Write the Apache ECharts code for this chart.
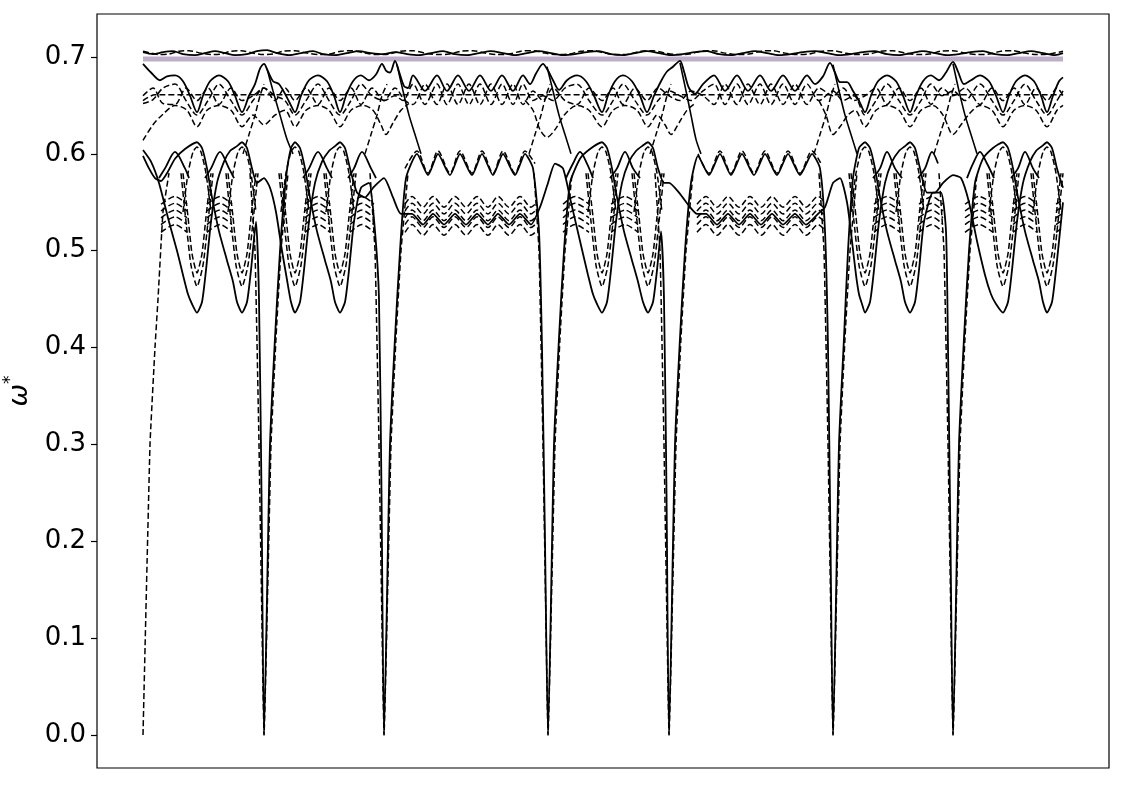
<!DOCTYPE html>
<html>
<head>
<meta charset="utf-8">
<script src="https://cdn.jsdelivr.net/npm/echarts@6/dist/echarts.min.js"></script>
<style>html,body{margin:0;padding:0;background:#fff;}#c{width:1125px;height:785px;}</style>
</head>
<body>
<div id="c"></div>
<script>
// path coordinate k (abstract k-path), frequency omega*
const yTicks = [0.0, 0.1, 0.2, 0.3, 0.4, 0.5, 0.6, 0.7];
const yLabels = ['0.0','0.1','0.2','0.3','0.4','0.5','0.6','0.7'];

const purpleBand = [[0,0.698],[920,0.698]];

const topSolid = [[0,0.705],[10,0.703],[20,0.705],[30,0.706],[40,0.703],[52,0.702],[62,0.704],[72,0.706],[82,0.704],[92,0.702],[104,0.703],[114,0.706],[124,0.707],[134,0.704],[146,0.702],[158,0.704],[170,0.706],[180,0.703],[192,0.702],[204,0.704],[216,0.706],[228,0.704],[240,0.703],[252,0.705],[264,0.703],[276,0.702],[288,0.704],[300,0.706],[312,0.703],[324,0.702],[336,0.704],[348,0.706],[360,0.704],[372,0.702],[384,0.704],[396,0.706],[408,0.704],[420,0.702],[432,0.703],[444,0.705],[456,0.706],[468,0.703],[480,0.702],[492,0.704],[504,0.706],[516,0.704],[528,0.702],[540,0.703],[552,0.705],[564,0.706],[576,0.703],[588,0.702],[600,0.704],[612,0.706],[624,0.704],[636,0.702],[648,0.703],[660,0.705],[672,0.706],[684,0.704],[696,0.702],[708,0.703],[720,0.705],[732,0.706],[744,0.703],[756,0.702],[768,0.704],[780,0.706],[792,0.704],[804,0.702],[816,0.703],[828,0.705],[840,0.706],[852,0.703],[864,0.702],[876,0.704],[888,0.706],[900,0.704],[912,0.702],[920,0.704]];

const topDashed = [[0,0.706],[6,0.7045],[16,0.7025],[26,0.703],[36,0.706],[46,0.7065],[58,0.704],[68,0.7025],[78,0.703],[88,0.706],[98,0.7065],[110,0.704],[120,0.7025],[130,0.703],[140,0.706],[152,0.7065],[164,0.704],[176,0.7025],[186,0.703],[198,0.706],[210,0.7065],[222,0.704],[234,0.7025],[246,0.703],[258,0.706],[270,0.7065],[282,0.704],[294,0.7025],[306,0.703],[318,0.706],[330,0.7065],[342,0.704],[354,0.7025],[366,0.703],[378,0.706],[390,0.7065],[402,0.704],[414,0.7025],[426,0.703],[438,0.706],[450,0.7065],[462,0.704],[474,0.7025],[486,0.703],[498,0.706],[510,0.7065],[522,0.704],[534,0.7025],[546,0.703],[558,0.706],[570,0.7065],[582,0.704],[594,0.7025],[606,0.703],[618,0.706],[630,0.7065],[642,0.704],[654,0.7025],[666,0.703],[678,0.706],[690,0.7065],[702,0.704],[714,0.7025],[726,0.703],[738,0.706],[750,0.7065],[762,0.704],[774,0.7025],[786,0.703],[798,0.706],[810,0.7065],[822,0.704],[834,0.7025],[846,0.703],[858,0.706],[870,0.7065],[882,0.704],[894,0.7025],[906,0.703],[920,0.706]];

const upperSolid = [[0,0.693],[8,0.684],[17,0.676],[24,0.68],[32,0.681],[40,0.675],[47,0.66],[54,0.643],[60,0.66],[67,0.675],[76,0.681],[85,0.675],[92,0.66],[99,0.643],[106,0.66],[112,0.672],[117,0.688],[121,0.693],[125,0.685],[130,0.675],[136,0.672],[142,0.662],[147,0.652],[152,0.643],[158,0.66],[166,0.676],[175,0.681],[184,0.675],[191,0.66],[197,0.643],[203,0.66],[210,0.675],[218,0.681],[226,0.676],[233,0.682],[239,0.693],[243,0.686],[247,0.684],[252,0.696],[256,0.685],[261,0.67],[265,0.668],[270,0.681],[282,0.665],[294,0.681],[304,0.665],[315,0.681],[326,0.665],[337,0.681],[348,0.665],[359,0.681],[370,0.665],[380,0.681],[387,0.672],[393,0.683],[400,0.693],[405,0.686],[410,0.676],[416,0.666],[424,0.676],[434,0.681],[443,0.675],[451,0.66],[459,0.643],[465,0.66],[472,0.675],[480,0.681],[489,0.675],[497,0.66],[504,0.643],[511,0.66],[518,0.675],[524,0.685],[530,0.69],[537,0.696],[541,0.685],[546,0.668],[552,0.662],[560,0.672],[571,0.681],[582,0.665],[594,0.681],[605,0.665],[617,0.681],[628,0.665],[640,0.681],[652,0.665],[664,0.681],[672,0.672],[680,0.68],[687,0.694],[692,0.684],[697,0.674],[704,0.674],[710,0.665],[716,0.655],[722,0.643],[728,0.66],[735,0.675],[744,0.681],[753,0.675],[760,0.66],[767,0.643],[773,0.66],[780,0.675],[788,0.681],[796,0.676],[803,0.684],[810,0.695],[815,0.685],[821,0.672],[828,0.676],[837,0.681],[846,0.675],[853,0.66],[860,0.643],[866,0.66],[873,0.675],[882,0.681],[891,0.675],[898,0.66],[904,0.643],[910,0.66],[916,0.675],[920,0.679]];

const upperFlatDashed = [[0,0.655],[12,0.661],[920,0.661]];

const upperWaveA = [[0,0.66],[10,0.668],[20,0.652],[32,0.651],[43,0.668],[54,0.655],[65,0.668],[76,0.651],[88,0.668],[99,0.655],[110,0.66],[121,0.668],[132,0.655],[142,0.668],[152,0.655],[163,0.668],[175,0.651],[186,0.668],[197,0.655],[208,0.668],[218,0.651],[229,0.668],[241,0.655],[252,0.668],[262,0.655],[270,0.651],[282,0.672],[294,0.651],[304,0.672],[315,0.651],[326,0.672],[337,0.651],[348,0.672],[359,0.651],[370,0.672],[380,0.651],[390,0.665],[400,0.655],[410,0.668],[422,0.655],[434,0.651],[446,0.668],[459,0.655],[470,0.668],[480,0.651],[492,0.668],[504,0.655],[515,0.668],[526,0.66],[537,0.655],[548,0.665],[560,0.66],[571,0.651],[582,0.672],[594,0.651],[605,0.672],[617,0.651],[628,0.672],[640,0.651],[652,0.672],[664,0.651],[676,0.668],[690,0.66],[700,0.668],[711,0.655],[722,0.66],[733,0.668],[744,0.651],[756,0.668],[767,0.655],[778,0.668],[788,0.651],[799,0.668],[810,0.66],[822,0.668],[837,0.651],[849,0.668],[860,0.655],[871,0.668],[882,0.651],[893,0.668],[904,0.655],[914,0.668],[920,0.66]];

const upperWaveB = [[0,0.652],[10,0.656],[20,0.668],[32,0.672],[43,0.655],[54,0.64],[65,0.655],[76,0.672],[88,0.655],[99,0.64],[110,0.655],[121,0.668],[132,0.66],[142,0.655],[152,0.64],[163,0.655],[175,0.672],[186,0.655],[197,0.64],[208,0.655],[218,0.672],[229,0.66],[241,0.655],[252,0.66],[260,0.655],[270,0.672],[282,0.651],[294,0.672],[304,0.651],[315,0.672],[326,0.651],[337,0.672],[348,0.651],[359,0.672],[370,0.651],[380,0.672],[390,0.655],[400,0.66],[410,0.655],[422,0.668],[434,0.672],[446,0.655],[459,0.64],[470,0.655],[480,0.672],[492,0.655],[504,0.64],[515,0.655],[526,0.665],[537,0.66],[548,0.655],[560,0.665],[571,0.672],[582,0.651],[594,0.672],[605,0.651],[617,0.672],[628,0.651],[640,0.672],[652,0.651],[664,0.672],[676,0.655],[690,0.665],[700,0.655],[711,0.66],[722,0.64],[733,0.655],[744,0.672],[756,0.655],[767,0.64],[778,0.655],[788,0.672],[799,0.66],[810,0.665],[822,0.655],[837,0.672],[849,0.655],[860,0.64],[871,0.655],[882,0.672],[893,0.655],[904,0.64],[914,0.655],[920,0.665]];

const upperDomes = [[0,0.614],[10,0.63],[20,0.641],[32,0.65],[44,0.645],[54,0.628],[64,0.645],[76,0.65],[88,0.645],[99,0.628],[110,0.64],[121,0.63],[132,0.64],[142,0.645],[152,0.628],[163,0.645],[175,0.65],[186,0.645],[197,0.628],[208,0.645],[220,0.65],[230,0.645],[238,0.63],[243,0.62],[250,0.632],[258,0.645],[266,0.652],[266,null],
 [382,0.655],[390,0.645],[397,0.625],[404,0.617],[412,0.625],[422,0.641],[434,0.65],[446,0.645],[459,0.628],[470,0.645],[482,0.65],[494,0.645],[505,0.628],[514,0.64],[522,0.63],[528,0.62],[536,0.632],[544,0.645],[552,0.652],[552,null],
 [676,0.655],[683,0.64],[690,0.62],[697,0.628],[705,0.64],[712,0.645],[722,0.628],[733,0.645],[744,0.65],[756,0.645],[767,0.628],[778,0.645],[790,0.65],[800,0.64],[810,0.62],[818,0.63],[826,0.641],[837,0.65],[849,0.645],[860,0.628],[871,0.645],[882,0.65],[893,0.645],[904,0.628],[914,0.645],[920,0.65]];

const crossSolid = [[124,0.688],[130,0.665],[137,0.64],[144,0.615],[150,0.6],[150,null],
 [254,0.692],[260,0.665],[266,0.64],[272,0.62],[278,0.6],[278,null],
 [404,0.69],[410,0.665],[416,0.64],[422,0.62],[428,0.6],[428,null],
 [537,0.694],[543,0.665],[548,0.64],[553,0.615],[558,0.6],[558,null],
 [690,0.692],[696,0.665],[702,0.64],[708,0.62],[714,0.6],[714,null],
 [810,0.693],[816,0.665],[822,0.64],[828,0.62],[834,0.6]];

const crossDashed = [[100,0.6],[106,0.62],[112,0.64],[117,0.66],[121,0.672],[121,null],
 [222,0.6],[228,0.62],[234,0.64],[239,0.66],[244,0.672],[244,null],
 [386,0.6],[392,0.62],[398,0.64],[403,0.66],[407,0.672],[407,null],
 [507,0.6],[513,0.62],[519,0.64],[524,0.66],[528,0.672],[528,null],
 [671,0.6],[677,0.62],[683,0.64],[688,0.66],[692,0.672],[692,null],
 [791,0.6],[797,0.62],[803,0.64],[808,0.66],[812,0.672]];

const lensP = [[0,0.598],[6,0.585],[12,0.575],[18,0.572],[24,0.58],[32,0.595],[42,0.605],[54,0.612],[59,0.606],[64,0.585],[69,0.555],[76,0.52],[84,0.49],[90,0.468],[94,0.447],[99,0.436],[104,0.447],[108,0.48],[113,0.53],[116,0.45],[118.5,0.25],[121,0],[127,0.3],[132,0.41],[137,0.5],[143,0.575],[148,0.606],[152,0.612],[157,0.606],[162,0.585],[167,0.555],[174,0.52],[182,0.49],[188,0.468],[192,0.447],[197,0.436],[202,0.447],[206,0.48],[211,0.53],[218,0.565],[226,0.57],[232,0.52],[236,0.45],[238.5,0.25],[241,0],[247,0.3],[252,0.41],[257,0.5],[263,0.575],[274,0.6],[285,0.578],[295,0.6],[307,0.578],[317,0.6],[329,0.578],[339,0.6],[350,0.578],[360,0.6],[372,0.578],[382,0.6],[390,0.585],[396,0.52],[399,0.4],[402,0.2],[405,0],[411,0.3],[416,0.41],[421,0.5],[427,0.57],[437,0.595],[447,0.605],[459,0.612],[464,0.606],[469,0.585],[474,0.555],[481,0.52],[489,0.49],[495,0.468],[500,0.447],[505,0.436],[510,0.447],[514,0.48],[518,0.52],[521,0.45],[523.5,0.25],[526,0],[532,0.3],[537,0.41],[542,0.5],[548,0.57],[555,0.598],[566,0.578],[577,0.6],[588,0.578],[599,0.6],[611,0.578],[622,0.6],[634,0.578],[645,0.6],[657,0.578],[669,0.6],[677,0.585],[682,0.52],[685,0.4],[687.5,0.2],[690,0],[696,0.3],[701,0.41],[705,0.5],[710,0.575],[716,0.606],[722,0.612],[727,0.606],[732,0.585],[737,0.555],[744,0.52],[752,0.49],[758,0.468],[762,0.447],[767,0.436],[772,0.447],[776,0.48],[781,0.53],[790,0.56],[798,0.56],[803,0.52],[805,0.4],[807.5,0.2],[810,0],[816,0.3],[821,0.41],[826,0.5],[832,0.57],[840,0.595],[850,0.606],[860,0.612],[865,0.606],[870,0.585],[875,0.555],[882,0.52],[890,0.49],[896,0.468],[900,0.447],[904,0.436],[909,0.447],[913,0.48],[918,0.53],[920,0.55]];

const lensQ = [[0,0.604],[8,0.592],[16,0.57],[26,0.53],[34,0.5],[40,0.475],[45,0.455],[49,0.445],[54,0.436],[59,0.447],[63,0.48],[68,0.53],[74,0.57],[81,0.592],[87,0.603],[94,0.608],[99,0.612],[104,0.606],[109,0.585],[114,0.57],[121,0.575],[127,0.565],[133,0.54],[139,0.5],[144,0.47],[148,0.447],[152,0.436],[157,0.447],[161,0.48],[166,0.53],[172,0.57],[179,0.592],[186,0.603],[192,0.608],[197,0.612],[202,0.606],[207,0.585],[214,0.56],[222,0.555],[230,0.565],[241,0.575],[250,0.555],[258,0.538],[269,0.538],[280,0.527],[290,0.538],[301,0.527],[312,0.538],[323,0.527],[334,0.538],[345,0.527],[355,0.538],[366,0.527],[377,0.538],[388,0.527],[397,0.545],[405,0.57],[412,0.59],[420,0.585],[428,0.55],[437,0.51],[445,0.475],[450,0.455],[454,0.445],[459,0.436],[464,0.447],[468,0.48],[473,0.53],[479,0.57],[486,0.592],[493,0.603],[499,0.608],[505,0.612],[510,0.606],[515,0.585],[521,0.57],[526,0.57],[536,0.56],[547,0.545],[554,0.538],[563,0.538],[574,0.527],[585,0.538],[596,0.527],[607,0.538],[618,0.527],[629,0.538],[640,0.527],[652,0.538],[663,0.527],[675,0.538],[682,0.545],[690,0.57],[697,0.575],[704,0.55],[709,0.51],[713,0.475],[716,0.455],[719,0.445],[722,0.436],[727,0.447],[731,0.48],[736,0.53],[742,0.57],[749,0.592],[756,0.603],[762,0.608],[767,0.612],[772,0.606],[777,0.585],[784,0.56],[792,0.56],[800,0.57],[810,0.578],[818,0.575],[826,0.55],[834,0.51],[842,0.475],[848,0.455],[853,0.445],[860,0.436],[865,0.447],[869,0.48],[874,0.53],[880,0.57],[887,0.592],[893,0.603],[899,0.608],[904,0.612],[909,0.606],[914,0.585],[920,0.565]];

const lensInner = [[38,0.58],[43,0.53],[48,0.485],[54,0.463],[60,0.485],[65,0.53],[70,0.58],[70,null],
 [83,0.58],[88,0.53],[93,0.485],[99,0.463],[105,0.485],[110,0.53],[115,0.58],[115,null],
 [136,0.58],[141,0.53],[146,0.485],[152,0.463],[158,0.485],[163,0.53],[168,0.58],[168,null],
 [181,0.58],[186,0.53],[191,0.485],[197,0.463],[203,0.485],[208,0.53],[213,0.58],[213,null],
 [443,0.58],[448,0.53],[453,0.485],[459,0.463],[465,0.485],[470,0.53],[475,0.58],[475,null],
 [489,0.58],[494,0.53],[499,0.485],[505,0.463],[511,0.485],[516,0.53],[521,0.58],[521,null],
 [706,0.58],[711,0.53],[716,0.485],[722,0.463],[728,0.485],[733,0.53],[738,0.58],[738,null],
 [751,0.58],[756,0.53],[761,0.485],[767,0.463],[773,0.485],[778,0.53],[783,0.58],[783,null],
 [844,0.58],[849,0.53],[854,0.485],[860,0.463],[866,0.485],[871,0.53],[876,0.58],[876,null],
 [888,0.58],[893,0.53],[898,0.485],[904,0.463],[910,0.485],[915,0.53],[920,0.58]];

const lensInner2 = [[40,0.58],[45,0.535],[49,0.497],[54,0.477],[59,0.497],[63,0.535],[68,0.58],[68,null],
 [85,0.58],[90,0.535],[94,0.497],[99,0.477],[104,0.497],[108,0.535],[113,0.58],[113,null],
 [138,0.58],[143,0.535],[147,0.497],[152,0.477],[157,0.497],[161,0.535],[166,0.58],[166,null],
 [183,0.58],[188,0.535],[192,0.497],[197,0.477],[202,0.497],[206,0.535],[211,0.58],[211,null],
 [445,0.58],[450,0.535],[454,0.497],[459,0.477],[464,0.497],[468,0.535],[473,0.58],[473,null],
 [491,0.58],[496,0.535],[500,0.497],[505,0.477],[510,0.497],[514,0.535],[519,0.58],[519,null],
 [708,0.58],[713,0.535],[717,0.497],[722,0.477],[727,0.497],[731,0.535],[736,0.58],[736,null],
 [753,0.58],[758,0.535],[762,0.497],[767,0.477],[772,0.497],[776,0.535],[781,0.58],[781,null],
 [846,0.58],[851,0.535],[855,0.497],[860,0.477],[865,0.497],[869,0.535],[874,0.58],[874,null],
 [890,0.58],[895,0.535],[899,0.497],[904,0.477],[909,0.497],[913,0.535],[918,0.58]];

const lensCap = [[40,0.54],[45,0.58],[50,0.602],[54,0.607],[58,0.602],[63,0.58],[68,0.54],[68,null],
 [85,0.54],[90,0.58],[95,0.602],[99,0.607],[103,0.602],[108,0.58],[113,0.54],[113,null],
 [138,0.54],[143,0.58],[148,0.602],[152,0.607],[156,0.602],[161,0.58],[166,0.54],[166,null],
 [183,0.54],[188,0.58],[193,0.602],[197,0.607],[201,0.602],[206,0.58],[211,0.54],[211,null],
 [445,0.54],[450,0.58],[455,0.602],[459,0.607],[463,0.602],[468,0.58],[473,0.54],[473,null],
 [491,0.54],[496,0.58],[501,0.602],[505,0.607],[509,0.602],[514,0.58],[519,0.54],[519,null],
 [708,0.54],[713,0.58],[718,0.602],[722,0.607],[726,0.602],[731,0.58],[736,0.54],[736,null],
 [753,0.54],[758,0.58],[763,0.602],[767,0.607],[771,0.602],[776,0.58],[781,0.54],[781,null],
 [846,0.54],[851,0.58],[856,0.602],[860,0.607],[864,0.602],[869,0.58],[874,0.54],[874,null],
 [890,0.54],[895,0.58],[900,0.602],[904,0.607],[908,0.602],[913,0.58],[918,0.54]];

const acousticDashed = [[0,0],[7,0.3],[12,0.4],[15,0.45],[20,0.54],[26,0.58],[26,null],
 [107,0.58],[112,0.5],[116,0.3],[120,0.05],[121,0],[128,0.3],[133,0.41],[138,0.5],[145,0.58],[145,null],
 [227,0.58],[232,0.5],[236,0.3],[240,0.05],[241,0],[248,0.3],[253,0.41],[258,0.5],[265,0.58],[265,null],
 [391,0.58],[396,0.5],[400,0.3],[404,0.05],[405,0],[412,0.3],[417,0.41],[422,0.5],[429,0.58],[429,null],
 [512,0.58],[517,0.5],[521,0.3],[525,0.05],[526,0],[533,0.3],[538,0.41],[543,0.5],[550,0.58],[550,null],
 [676,0.58],[681,0.5],[685,0.3],[689,0.05],[690,0],[697,0.3],[702,0.41],[707,0.5],[714,0.58],[714,null],
 [796,0.58],[801,0.5],[805,0.3],[809,0.05],[810,0],[817,0.3],[822,0.41],[827,0.5],[834,0.58]];

const midZigSolid = [[16,0.575],[22,0.585],[32,0.602],[42,0.585],[46,0.575],[46,null],
 [62,0.575],[68,0.585],[77,0.602],[86,0.585],[91,0.575],[91,null],
 [160,0.575],[166,0.585],[175,0.602],[184,0.585],[189,0.575],[189,null],
 [205,0.575],[211,0.585],[219,0.602],[228,0.585],[233,0.575],[233,null],
 [423,0.575],[430,0.59],[437,0.602],[444,0.59],[450,0.575],[450,null],
 [467,0.575],[474,0.585],[482,0.602],[490,0.585],[497,0.575],[497,null],
 [730,0.575],[737,0.585],[744,0.602],[752,0.585],[759,0.575],[759,null],
 [775,0.575],[782,0.585],[789,0.602],[795,0.59],[795,null],
 [824,0.575],[830,0.59],[837,0.602],[844,0.59],[851,0.575],[851,null],
 [868,0.575],[875,0.585],[882,0.602],[890,0.585],[896,0.575]];

const midZigDashed = [[262,0.585],[274,0.603],[285,0.58],[295,0.603],[307,0.58],[317,0.603],[329,0.58],[339,0.603],[350,0.58],[360,0.603],[372,0.58],[382,0.603],[392,0.59],[392,null],
 [555,0.6],[566,0.58],[577,0.603],[588,0.58],[599,0.603],[611,0.58],[622,0.603],[634,0.58],[645,0.603],[657,0.58],[669,0.603],[678,0.59]];

const clusterK = [18,32,44,54, 64,77,89,99, 162,175,187,197, 207,219,231,241, 262,269,280,290,301,312,323,334,345,355,366,377,388,394,405, 420,432,446,459, 468,482,495,505, 554,563,574,585,596,607,618,629,640,652,663,675,682,690, 731,744,757,767, 776,789,800,810, 822,836,850,860, 870,882,894,904, 913,920];
const cluster1 = [0.548,0.556,0.548,null, 0.548,0.556,0.548,null, 0.548,0.556,0.548,null, 0.548,0.556,0.548,null, 0.548,0.556,0.545,0.556,0.545,0.556,0.545,0.556,0.545,0.556,0.545,0.556,0.545,0.55,null, 0.548,0.556,0.548,null, 0.548,0.556,0.548,null, 0.548,0.556,0.545,0.556,0.545,0.556,0.545,0.556,0.545,0.556,0.545,0.556,0.55,null, 0.548,0.556,0.548,null, 0.548,0.556,0.548,null, 0.548,0.556,0.548,null, 0.548,0.556,0.548,null, 0.548,0.553];
const cluster2 = [0.541,0.549,0.541,null, 0.541,0.549,0.541,null, 0.541,0.549,0.541,null, 0.541,0.549,0.541,null, 0.541,0.549,0.538,0.549,0.538,0.549,0.538,0.549,0.538,0.549,0.538,0.549,0.538,0.543,null, 0.541,0.549,0.541,null, 0.541,0.549,0.541,null, 0.541,0.549,0.538,0.549,0.538,0.549,0.538,0.549,0.538,0.549,0.538,0.549,0.543,null, 0.541,0.549,0.541,null, 0.541,0.549,0.541,null, 0.541,0.549,0.541,null, 0.541,0.549,0.541,null, 0.541,0.546];
const cluster3 = [0.534,0.542,0.534,null, 0.534,0.542,0.534,null, 0.534,0.542,0.534,null, 0.534,0.542,0.534,null, 0.534,0.542,0.531,0.542,0.531,0.542,0.531,0.542,0.531,0.542,0.531,0.542,0.531,0.536,null, 0.534,0.542,0.534,null, 0.534,0.542,0.534,null, 0.534,0.542,0.531,0.542,0.531,0.542,0.531,0.542,0.531,0.542,0.531,0.542,0.536,null, 0.534,0.542,0.534,null, 0.534,0.542,0.534,null, 0.534,0.542,0.534,null, 0.534,0.542,0.534,null, 0.534,0.539];
const cluster4 = [0.527,0.535,0.527,null, 0.527,0.535,0.527,null, 0.527,0.535,0.527,null, 0.527,0.535,0.527,null, 0.527,0.535,0.524,0.535,0.524,0.535,0.524,0.535,0.524,0.535,0.524,0.535,0.524,0.529,null, 0.527,0.535,0.527,null, 0.527,0.535,0.527,null, 0.527,0.535,0.524,0.535,0.524,0.535,0.524,0.535,0.524,0.535,0.524,0.535,0.529,null, 0.527,0.535,0.527,null, 0.527,0.535,0.527,null, 0.527,0.535,0.527,null, 0.527,0.535,0.527,null, 0.527,0.532];
const cluster5 = [0.519,0.527,0.519,null, 0.519,0.527,0.519,null, 0.519,0.527,0.519,null, 0.519,0.527,0.519,null, 0.519,0.527,0.516,0.527,0.516,0.527,0.516,0.527,0.516,0.527,0.516,0.527,0.516,0.521,null, 0.519,0.527,0.519,null, 0.519,0.527,0.519,null, 0.519,0.527,0.516,0.527,0.516,0.527,0.516,0.527,0.516,0.527,0.516,0.527,0.521,null, 0.519,0.527,0.519,null, 0.519,0.527,0.519,null, 0.519,0.527,0.519,null, 0.519,0.527,0.519,null, 0.519,0.524];

const DASH = [6, 3];
function line(data, dashed, width, opts) {
  return Object.assign({
    type: 'line', data: data, symbol: 'none', showSymbol: false, silent: true,
    smooth: 0.3, connectNulls: false, animation: false,
    lineStyle: { color: '#000', width: width, type: dashed ? DASH : 'solid' }
  }, opts || {});
}
function clusterSeries(vals, dashed) {
  return line(clusterK.map((k, i) => [k, vals[i]]), dashed, 1.5);
}

const chart = echarts.init(document.getElementById('c'), null, { renderer: 'canvas' });
chart.setOption({
  animation: false,
  backgroundColor: '#fff',
  grid: { left: 97, right: 16, top: 14, bottom: 17, containLabel: false, outerBoundsMode: 'none',
    show: true, borderColor: '#000', borderWidth: 1.2, backgroundColor: 'transparent' },
  xAxis: { type: 'value', min: -46, max: 966, axisLine: { show: false, onZero: false }, axisTick: { show: false }, axisLabel: { show: false }, splitLine: { show: false } },
  yAxis: {
    type: 'value', min: -0.03407, max: 0.7444,
    axisLine: { show: false, onZero: false }, splitLine: { show: false },
    axisTick: { show: true, inside: false, length: 6, lineStyle: { color: '#000', width: 1.2 }, customValues: yTicks },
    axisLabel: { show: true, margin: 11, fontSize: 26, fontFamily: 'DejaVu Sans', color: '#000', customValues: yTicks,
      formatter: function (v) { const i = yTicks.findIndex(t => Math.abs(t - v) < 1e-6); return i >= 0 ? yLabels[i] : ''; } },
    name: '{w|ω}{s|*}', nameLocation: 'middle', nameGap: 58, nameRotate: 90,
    nameTextStyle: { color: '#000', rich: {
      w: { fontSize: 27, fontFamily: 'DejaVu Sans', fontStyle: 'italic', color: '#000', lineHeight: 32, verticalAlign: 'bottom' },
      s: { fontSize: 17, fontFamily: 'DejaVu Sans', color: '#000', lineHeight: 32, verticalAlign: 'top' } } }
  },
  series: [
    line(purpleBand, false, 5, { z: 1, lineStyle: { color: '#bdafc7', width: 5, type: 'solid' } }),
    line(topSolid, false, 1.8),
    line(topDashed, true, 1.5),
    line(upperSolid, false, 1.8),
    line(upperFlatDashed, true, 1.5),
    line(upperWaveA, true, 1.5),
    line(upperWaveB, true, 1.5),
    line(upperDomes, true, 1.5),
    line(crossSolid, false, 1.6),
    line(crossDashed, true, 1.5),
    line(lensP, false, 1.8, { smooth: 0.2 }),
    line(lensQ, false, 1.8, { smooth: 0.2 }),
    line(lensInner, true, 1.5, { smooth: 0.2 }),
    line(lensInner2, true, 1.5, { smooth: 0.2 }),
    line(lensCap, true, 1.5, { smooth: 0.2 }),
    line(acousticDashed, true, 1.5, { smooth: 0.1 }),
    line(midZigSolid, false, 1.8),
    line(midZigDashed, true, 1.5),
    clusterSeries(cluster1, true),
    clusterSeries(cluster2, true),
    clusterSeries(cluster3, true),
    clusterSeries(cluster4, true),
    clusterSeries(cluster5, true)
  ]
});
</script>
</body>
</html>
